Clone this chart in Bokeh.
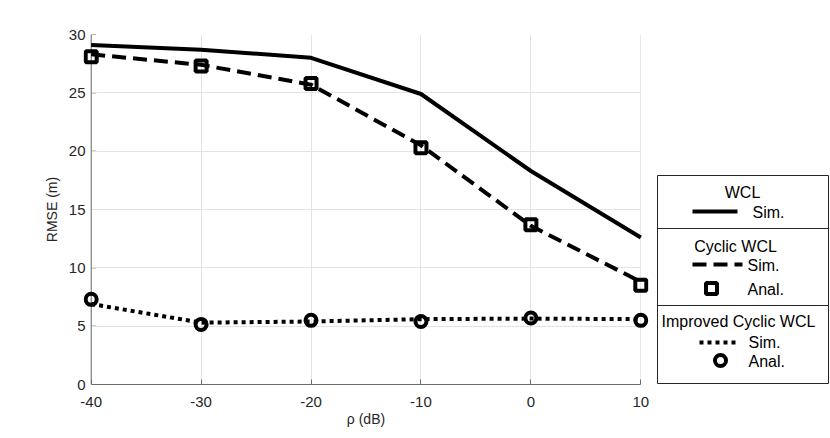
from bokeh.plotting import figure
from bokeh.layouts import row
from bokeh.models import Range1d, FixedTicker, BoxAnnotation, Span, PrintfTickFormatter
from bokeh.core.properties import value
from bokeh.embed import file_html
from bokeh.resources import INLINE

# ---- data ----
rho_db = [-40, -30, -20, -10, 0, 10]
wcl_sim = [29.1, 28.7, 28.0, 24.9, 18.3, 12.6]
cyclic_sim = [28.3, 27.4, 25.7, 20.5, 13.6, 8.8]
cyclic_anal = [28.1, 27.3, 25.8, 20.3, 13.7, 8.5]
improved_sim = [6.9, 5.3, 5.4, 5.6, 5.65, 5.6]
improved_anal = [7.3, 5.15, 5.5, 5.4, 5.7, 5.5]
x_ticks = [-40, -30, -20, -10, 0, 10]
y_ticks = [0, 5, 10, 15, 20, 25, 30]
legend_groups = ["WCL", "Cyclic WCL", "Improved Cyclic WCL"]

FONT = "Liberation Sans"
TXT = "#262626"
AX = "#6b6b6b"
X0, X1 = x_ticks[0], x_ticks[-1]
PAD = 0.7  # data units of room so the end markers are not clipped

p = figure(frame_width=565, frame_height=350,
           x_range=Range1d(X0 - PAD, X1 + PAD), y_range=Range1d(0, 30),
           output_backend="svg", toolbar_location=None,
           min_border_left=83, min_border_right=8,
           min_border_top=34, min_border_bottom=50)
p.outline_line_color = None

p.xaxis.ticker = FixedTicker(ticks=x_ticks)
p.yaxis.ticker = FixedTicker(ticks=y_ticks)
p.xaxis.formatter = PrintfTickFormatter(format="%d")
p.yaxis.formatter = PrintfTickFormatter(format="%d")
p.xaxis.bounds = (X0, X1)
for ax in (p.xaxis, p.yaxis):
    ax.axis_line_color = AX
    ax.axis_line_width = 1
    ax.major_tick_line_color = AX
    ax.major_tick_in = 5
    ax.major_tick_out = 0
    ax.minor_tick_line_color = None
    ax.major_label_text_font = FONT
    ax.major_label_text_font_size = "15px"
    ax.major_label_text_color = TXT
    ax.axis_label_text_font = FONT
    ax.axis_label_text_font_size = "14px"
    ax.axis_label_text_font_style = "normal"
    ax.axis_label_text_color = TXT
# y axis: line & ticks drawn at x = -40 below, labels kept from the axis
p.yaxis.axis_line_color = None
p.yaxis.major_tick_line_color = None
p.xaxis.axis_label = "ρ (dB)"
p.yaxis.axis_label = "RMSE (m)"
p.xaxis.major_label_standoff = 12
p.xaxis.axis_label_standoff = 1
p.yaxis.major_label_standoff = -2
p.yaxis.axis_label_standoff = 6

p.xgrid.ticker = FixedTicker(ticks=x_ticks)
p.ygrid.ticker = FixedTicker(ticks=y_ticks)
for g in (p.xgrid, p.ygrid):
    g.grid_line_color = "#e3e3e3"
    g.grid_line_width = 1

# mask the grid outside the data extent
p.add_layout(BoxAnnotation(right=X0, fill_color="white", fill_alpha=1,
                           line_color=None, level="underlay"))
p.add_layout(BoxAnnotation(left=X1, fill_color="white", fill_alpha=1,
                           line_color=None, level="underlay"))
# y axis line at x = -40 with inward ticks
p.add_layout(Span(location=X0, dimension="height", line_color=AX, line_width=1,
                  level="underlay"))
tick_len = 5 / 11.0
p.segment(x0=[X0] * len(y_ticks), x1=[X0 + tick_len] * len(y_ticks),
          y0=y_ticks, y1=y_ticks, line_color=AX, line_width=1, level="underlay")

p.line(rho_db, wcl_sim, line_color="black", line_width=4)
p.line(rho_db, cyclic_sim, line_color="black", line_width=4, line_dash="14 7")
p.line(rho_db, improved_sim, line_color="black", line_width=4, line_dash="4 4")
p.scatter(rho_db, cyclic_anal, marker="square", size=11, fill_color=None,
          line_color="black", line_width=4)
p.scatter(rho_db, improved_anal, marker="circle", size=11, fill_color=None,
          line_color="black", line_width=4)

# ---- legend panel (frame aligned with the main frame; y in page pixels) ----
lg = figure(frame_width=174, frame_height=350,
            x_range=Range1d(0, 174), y_range=Range1d(384, 34),
            output_backend="svg", toolbar_location=None,
            x_axis_type=None, y_axis_type=None,
            min_border_left=0, min_border_right=0,
            min_border_top=34, min_border_bottom=50)
lg.outline_line_color = None
lg.xgrid.visible = False
lg.ygrid.visible = False

lg.quad(left=[1], right=[172], top=[175], bottom=[383], fill_color=None,
        line_color="#262626", line_width=1)
lg.segment(x0=[1, 1], x1=[172, 172], y0=[228, 305], y1=[228, 305],
           line_color="#262626", line_width=1)

tstyle = dict(text_font=value(FONT), text_font_size="16px", text_color="black",
              text_baseline="middle")
lg.text(x=[86, 79, 82], y=[192, 246, 321], text=legend_groups, text_align="center", **tstyle)
lg.text(x=[96, 91, 92], y=[212, 265, 342], text=["Sim.", "Sim.", "Sim."],
        text_align="left", **tstyle)
lg.text(x=[91, 92], y=[289, 361], text=["Anal.", "Anal."], text_align="left", **tstyle)

lg.line([36, 81], [211, 211], line_color="black", line_width=4)
lg.line([36, 86], [264, 264], line_color="black", line_width=4, line_dash="14 7")
lg.line([43, 83], [342, 342], line_color="black", line_width=4, line_dash="4 4")
lg.scatter([55], [288], marker="square", size=11, fill_color=None,
           line_color="black", line_width=4)
lg.scatter([64], [360], marker="circle", size=11, fill_color=None,
           line_color="black", line_width=4)

layout = row(p, lg, spacing=0)
open("out.html", "w").write(file_html(layout, INLINE))
